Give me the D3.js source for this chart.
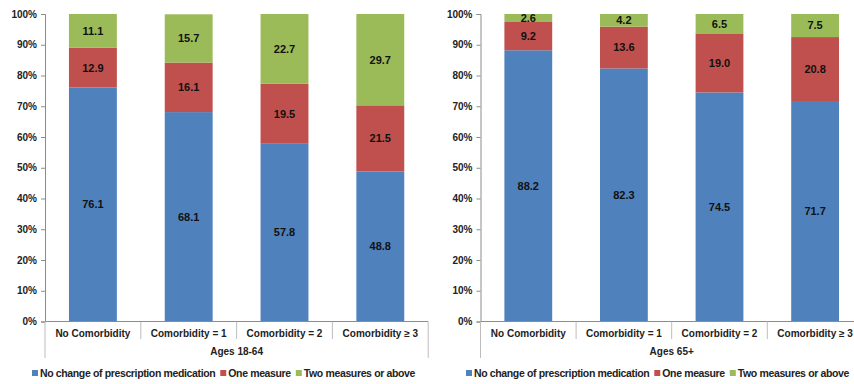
<!DOCTYPE html>
<html>
<head>
<meta charset="utf-8">
<script src="https://cdn.jsdelivr.net/npm/d3@7"></script>
<style>
  html, body { margin: 0; padding: 0; background: #fff; }
  svg { display: block; font-family: "Liberation Sans", Arial, sans-serif; }
</style>
</head>
<body>
<svg id="chart" width="854" height="384"></svg>
<script>
// Categories and series (percent of patients)
const categories = ["No Comorbidity", "Comorbidity = 1", "Comorbidity = 2", "Comorbidity \u2265 3"];
const seriesNames = ["No change of prescription medication", "One measure", "Two measures or above"];
const colors = ["#4F81BD", "#C0504D", "#9BBB59"];
const yTicks = [0, 10, 20, 30, 40, 50, 60, 70, 80, 90, 100];

// Ages 18-64
const young_noChange = [76.1, 68.1, 57.8, 48.8];
const young_one = [12.9, 16.1, 19.5, 21.5];
const young_two = [11.1, 15.7, 22.7, 29.7];

// Ages 65+
const old_noChange = [88.2, 82.3, 74.5, 71.7];
const old_one = [9.2, 13.6, 19.0, 20.8];
const old_two = [2.6, 4.2, 6.5, 7.5];

const svg = d3.select("#chart");
const plotTop = 14, plotBottom = 321.5;
const axisColor = "#8c8c8c";

function drawPanel(x0, bandW, groupLabel, s1, s2, s3, legendX0, legendW) {
  const g = svg.append("g");
  const x = d3.scaleBand().domain(categories).range([x0, x0 + bandW * categories.length]).paddingInner(0).paddingOuter(0);
  const y = d3.scaleLinear().domain([0, 100]).range([plotBottom, plotTop]);

  const rows = categories.map((c, i) => ({ cat: c, vals: [s1[i], s2[i], s3[i]] }));
  const stack = d3.stack().keys([0, 1, 2]).value((d, k) => d.vals[k]);
  const layers = stack(rows);
  const barW = x.bandwidth() * 0.5;

  layers.forEach((layer, k) => {
    layer.forEach((seg, i) => {
      const segTop = Math.min(seg[1], 100);
      g.append("rect")
        .attr("x", x(rows[i].cat) + (x.bandwidth() - barW) / 2)
        .attr("y", y(segTop))
        .attr("width", barW)
        .attr("height", y(seg[0]) - y(segTop))
        .attr("fill", colors[k]);
      g.append("text")
        .attr("x", x(rows[i].cat) + x.bandwidth() / 2)
        .attr("y", y((seg[0] + segTop) / 2))
        .attr("dy", "0.35em")
        .attr("text-anchor", "middle")
        .attr("font-size", 11)
        .attr("font-weight", "bold")
        .attr("fill", "#111")
        .text(rows[i].vals[k].toFixed(1));
    });
  });

  // Y axis
  const yAxis = d3.axisLeft(y).tickValues(yTicks).tickSize(4).tickPadding(4).tickFormat(d => d + "%");
  const ya = g.append("g").attr("transform", `translate(${x0},0)`).call(yAxis);
  ya.select(".domain").attr("stroke", axisColor);
  ya.selectAll(".tick line").attr("stroke", axisColor);
  ya.selectAll(".tick text").attr("font-size", 10).attr("font-weight", "bold").attr("fill", "#222")
    .attr("font-family", "Liberation Sans, Arial, sans-serif");

  // X axis baseline
  const xEnd = x0 + bandW * categories.length;
  g.append("line").attr("x1", x0).attr("x2", xEnd).attr("y1", plotBottom).attr("y2", plotBottom).attr("stroke", axisColor);

  // Category separators
  for (let i = 0; i <= categories.length; i++) {
    const xx = x0 + bandW * i;
    const outer = (i === 0 || i === categories.length);
    g.append("line").attr("x1", xx).attr("x2", xx).attr("y1", plotBottom).attr("y2", outer ? 358 : 339)
      .attr("stroke", "#bdbdbd");
  }

  // Category labels
  g.selectAll(".cat").data(categories).enter().append("text")
    .attr("x", d => x(d) + x.bandwidth() / 2)
    .attr("y", 333)
    .attr("dy", "0.35em")
    .attr("text-anchor", "middle")
    .attr("font-size", 10)
    .attr("font-weight", "bold")
    .attr("fill", "#222")
    .text(d => d);

  // Group label
  g.append("text")
    .attr("x", x0 + bandW * 2)
    .attr("y", 351.5)
    .attr("dy", "0.35em")
    .attr("text-anchor", "middle")
    .attr("font-size", 10)
    .attr("font-weight", "bold")
    .attr("fill", "#222")
    .text(groupLabel);

  // Legend: lay out items, then tighten letter spacing so the row spans legendW
  const lg = g.append("g").attr("transform", `translate(${legendX0},373)`);
  const items = seriesNames.map((name, k) => {
    const it = lg.append("g");
    it.append("rect").attr("x", 0).attr("y", -3).attr("width", 6).attr("height", 6).attr("fill", colors[k]);
    const t = it.append("text").attr("x", 8).attr("y", 0).attr("dy", "0.35em")
      .attr("font-size", 10.5).attr("font-weight", "bold").attr("fill", "#222").text(name);
    return { it, t, n: name.length };
  });
  const gap = 5;
  const textW = d3.sum(items, d => d.t.node().getComputedTextLength());
  const chars = d3.sum(items, d => d.n);
  const fixedW = items.length * 8 + (items.length - 1) * gap;
  const ls = (legendW - fixedW - textW) / chars;
  let cx = 0;
  items.forEach(d => {
    d.t.attr("letter-spacing", ls);
    d.it.attr("transform", `translate(${cx},0)`);
    cx += 8 + d.t.node().getComputedTextLength() + gap;
  });
}

drawPanel(45, 95.8, "Ages 18-64", young_noChange, young_one, young_two, 32, 383);
drawPanel(480.5, 95.6, "Ages 65+", old_noChange, old_one, old_two, 466, 383);
</script>
</body>
</html>
